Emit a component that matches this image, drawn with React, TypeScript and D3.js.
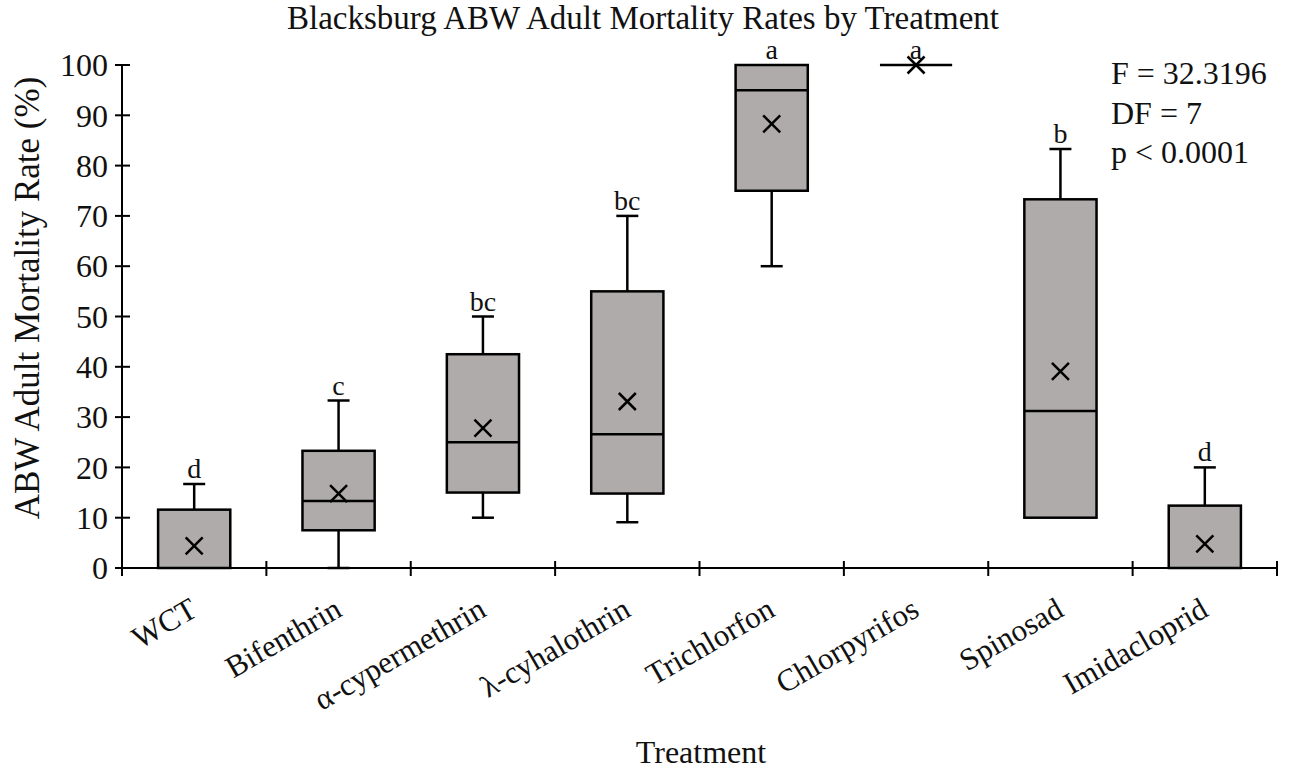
import React from "react";
import * as d3 from "d3";

const categories = ["WCT", "Bifenthrin", "α-cypermethrin", "λ-cyhalothrin", "Trichlorfon", "Chlorpyrifos", "Spinosad", "Imidacloprid"];
const whiskerLow = [0, 0, 10, 9.1, 60, 100, 10, 0];
const q1 = [0, 7.5, 15, 14.8, 75, 100, 10, 0];
const median = [0, 13.3, 25, 26.6, 95, 100, 31.2, 0];
const q3 = [11.6, 23.3, 42.5, 55, 100, 100, 73.3, 12.4];
const whiskerHigh = [16.7, 33.3, 50, 70, 100, 100, 83.3, 20];
const means = [4.4, 14.8, 27.8, 33.1, 88.3, 100, 39.1, 4.8];
const letters = ["d", "c", "bc", "bc", "a", "a", "b", "d"];
const yTicks = [0, 10, 20, 30, 40, 50, 60, 70, 80, 90, 100];
const statsLines = ["F = 32.3196", "DF = 7", "p < 0.0001"];

const W = 1289;
const H = 774;
const FONT = "Liberation Serif, DejaVu Serif, serif";
const BOX_FILL = "#afabab";
const ts = { fontFamily: FONT };

export default function App() {
  const x = d3.scaleBand<string>().domain(categories).range([122, 1277]).paddingInner(0).paddingOuter(0);
  const y = d3.scaleLinear().domain([0, 100]).range([568, 65]);
  const bw = x.bandwidth();
  const boxW = bw * 0.5;
  const capW = 22;
  const m = 8.5;

  return (
    <svg width={W} height={H} style={{ position: "absolute", left: 0, top: 0, background: "#fff", fontFamily: FONT }}>
      <text x={643} y={29} textAnchor="middle" fontSize={33} fill="#111" style={ts}>
        Blacksburg ABW Adult Mortality Rates by Treatment
      </text>

      {/* y axis */}
      <line x1={122} x2={122} y1={y(100)} y2={y(0)} stroke="#000" strokeWidth={2} />
      {yTicks.map((t) => (
        <g key={t}>
          <line x1={115} x2={130} y1={y(t)} y2={y(t)} stroke="#000" strokeWidth={2} />
          <text x={108} y={y(t)} dy="0.35em" textAnchor="end" fontSize={32} fill="#111" style={ts}>
            {t}
          </text>
        </g>
      ))}
      <text
        transform={`translate(39, 298) rotate(-90)`}
        textAnchor="middle"
        fontSize={35}
        fill="#111"
        style={ts}
      >
        ABW Adult Mortality Rate (%)
      </text>

      {/* x axis */}
      <line x1={122} x2={1277} y1={y(0)} y2={y(0)} stroke="#000" strokeWidth={2} />
      {d3.range(categories.length + 1).map((i) => {
        const px = 122 + i * bw;
        return <line key={i} x1={px} x2={px} y1={y(0) - 7} y2={y(0) + 8} stroke="#000" strokeWidth={2} />;
      })}

      {categories.map((c, i) => {
        const cx = (x(c) as number) + bw / 2;
        const left = cx - boxW / 2;
        const allSame = q1[i] === q3[i];
        return (
          <g key={c}>
            {whiskerHigh[i] > q3[i] && (
              <g>
                <line x1={cx} x2={cx} y1={y(q3[i])} y2={y(whiskerHigh[i])} stroke="#000" strokeWidth={2.5} />
                <line x1={cx - capW / 2} x2={cx + capW / 2} y1={y(whiskerHigh[i])} y2={y(whiskerHigh[i])} stroke="#000" strokeWidth={2.5} />
              </g>
            )}
            {whiskerLow[i] < q1[i] && (
              <g>
                <line x1={cx} x2={cx} y1={y(q1[i])} y2={y(whiskerLow[i])} stroke="#000" strokeWidth={2.5} />
                <line x1={cx - capW / 2} x2={cx + capW / 2} y1={y(whiskerLow[i])} y2={y(whiskerLow[i])} stroke="#000" strokeWidth={2.5} />
              </g>
            )}
            {allSame ? (
              <line x1={left} x2={left + boxW} y1={y(q1[i])} y2={y(q1[i])} stroke="#000" strokeWidth={2.5} />
            ) : (
              <rect x={left} y={y(q3[i])} width={boxW} height={y(q1[i]) - y(q3[i])} fill={BOX_FILL} stroke="#000" strokeWidth={2.5} />
            )}
            {median[i] > q1[i] && median[i] < q3[i] ? (
              <line x1={left} x2={left + boxW} y1={y(median[i])} y2={y(median[i])} stroke="#000" strokeWidth={2.5} />
            ) : null}
            <g stroke="#000" strokeWidth={2.5}>
              <line x1={cx - m} x2={cx + m} y1={y(means[i]) - m} y2={y(means[i]) + m} />
              <line x1={cx - m} x2={cx + m} y1={y(means[i]) + m} y2={y(means[i]) - m} />
            </g>
            <text x={cx} y={y(whiskerHigh[i]) - 6} textAnchor="middle" fontSize={28} fill="#111" style={ts}>
              {letters[i]}
            </text>
            <text
              transform={`translate(${cx + 5}, ${y(0) + 47}) rotate(-30)`}
              textAnchor="end"
              fontSize={31}
              fill="#111"
              style={ts}
            >
              {c}
            </text>
          </g>
        );
      })}

      {statsLines.map((s, i) => (
        <text key={s} x={1111} y={84 + i * 39.5} fontSize={32} fill="#111" style={ts}>
          {s}
        </text>
      ))}

      <text x={701} y={763} textAnchor="middle" fontSize={32} fill="#111" style={ts}>
        Treatment
      </text>
    </svg>
  );
}
